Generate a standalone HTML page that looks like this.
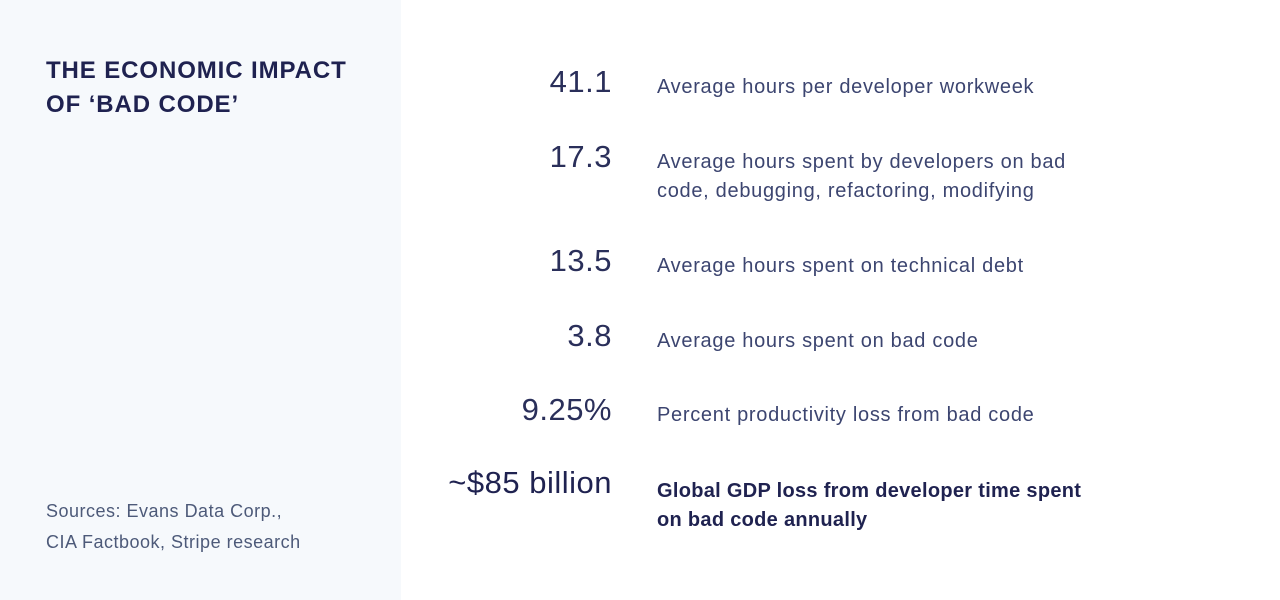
<!DOCTYPE html>
<html><head><style>
body{margin:0;width:1280px;height:600px;background:#fff;font-family:"Liberation Sans",sans-serif;position:relative;overflow:hidden}
.side{position:absolute;left:0;top:0;width:401px;height:600px;background:#f6f9fc}
.t{position:absolute;left:46px;top:54px;font-size:24px;font-weight:bold;color:#1f2250;line-height:34px;letter-spacing:0.9px}
.src{position:absolute;left:46px;top:496px;font-size:18px;color:#4d5a79;line-height:31px;letter-spacing:0.5px}
.n{position:absolute;right:668px;font-size:31px;color:#2a2f5a;white-space:nowrap;letter-spacing:0.5px}
.d{position:absolute;left:657px;font-size:20px;color:#3c4570;line-height:29px;width:480px;letter-spacing:0.7px}
.b{font-weight:bold;color:#1f2250;letter-spacing:0.3px}
</style></head><body>
<div class="side"></div>
<div class="t">THE ECONOMIC IMPACT<br>OF ‘BAD CODE’</div>
<div class="src">Sources: Evans Data Corp.,<br>CIA Factbook, Stripe research</div>
<div class="n" style="top:64px">41.1</div><div class="d" style="top:73px">Average hours per developer workweek</div>
<div class="n" style="top:139px">17.3</div><div class="d" style="top:148px">Average hours spent by developers on bad<br>code, debugging, refactoring, modifying</div>
<div class="n" style="top:243px">13.5</div><div class="d" style="top:252px">Average hours spent on technical debt</div>
<div class="n" style="top:318px">3.8</div><div class="d" style="top:327px">Average hours spent on bad code</div>
<div class="n" style="top:392px">9.25%</div><div class="d" style="top:401px">Percent productivity loss from bad code</div>
<div class="n" style="top:465px;color:#1f2250">~$85 billion</div><div class="d b" style="top:477px">Global GDP loss from developer time spent<br>on bad code annually</div>
</body></html>
